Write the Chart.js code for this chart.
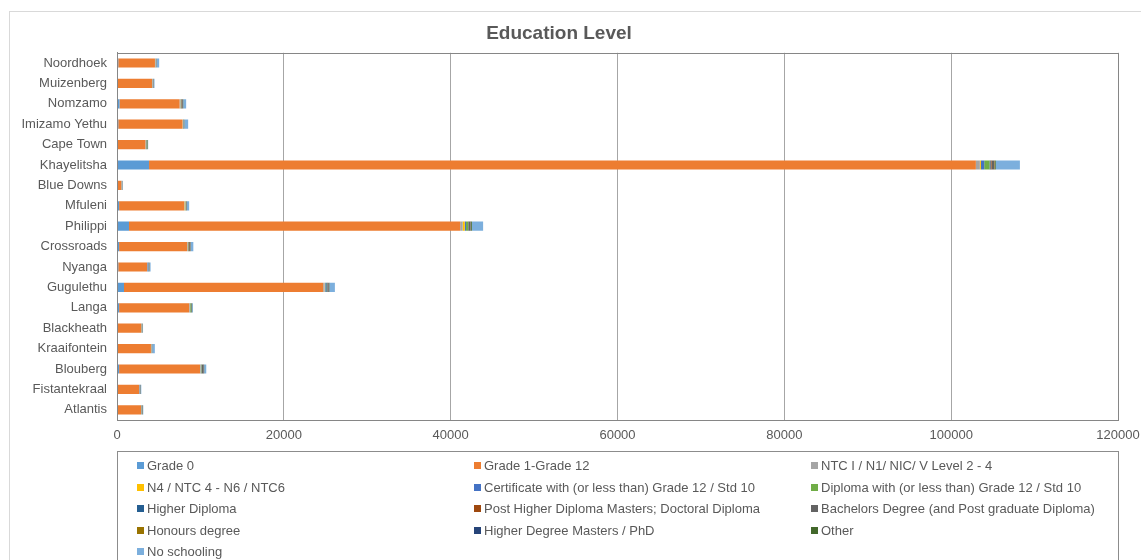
<!DOCTYPE html>
<html lang="en">
<head>
    <meta charset="UTF-8">
    <title>Education Level</title>
    <script src="https://cdn.jsdelivr.net/npm/chart.js"></script>
    <style>
        body { margin: 0; overflow: hidden; background: #fff; font-family: "Liberation Sans", Arial, sans-serif; }
        #wrap { position: relative; width: 1141px; height: 560px; overflow: hidden; }
        #frame { position: absolute; left: 9px; top: 11px; width: 1150px; height: 600px; border: 1px solid #d9d9d9; }
        #legend { position: absolute; left: 117px; top: 451px; width: 1002px; height: 130px; border: 1px solid #8c8c8c;
                  display: grid; grid-template-columns: 337px 337px 326px; grid-auto-rows: 21.5px;
                  padding: 3px 0 0 19px; box-sizing: border-box; font-size: 13px; color: #595959; }
        #legend div { display: flex; align-items: center; white-space: nowrap; }
        #legend span.sw { width: 7px; height: 7px; margin-right: 3px; flex: none; }
    </style>
</head>
<body>
<div id="wrap">
    <div id="frame"></div>
    <canvas id="eduChart"></canvas>
    <div id="legend"></div>
</div>
<script>
    const areas = ['Noordhoek', 'Muizenberg', 'Nomzamo', 'Imizamo Yethu', 'Cape Town', 'Khayelitsha',
        'Blue Downs', 'Mfuleni', 'Philippi', 'Crossroads', 'Nyanga', 'Gugulethu', 'Langa',
        'Blackheath', 'Kraaifontein', 'Blouberg', 'Fistantekraal', 'Atlantis'];

    const grade0       = [150, 120, 300, 150, 100, 3840, 30, 250, 1440, 250, 150, 840, 250, 50, 120, 250, 30, 40];
    const grade1to12   = [4400, 4080, 7200, 7700, 3300, 99120, 480, 7800, 39700, 8150, 3450, 23880, 8400, 2850, 3950, 9700, 2620, 2840];
    const ntc1         = [60, 40, 80, 40, 40, 480, 20, 60, 300, 60, 30, 150, 40, 20, 40, 60, 20, 20];
    const n4           = [10, 10, 20, 20, 10, 120, 5, 80, 250, 20, 10, 40, 15, 5, 10, 20, 5, 5];
    const certificate  = [30, 30, 40, 30, 30, 400, 20, 40, 150, 30, 120, 100, 40, 20, 20, 40, 60, 30];
    const diploma      = [30, 20, 50, 30, 40, 640, 15, 40, 250, 40, 20, 80, 80, 20, 20, 40, 20, 30];
    const higherDip    = [10, 10, 20, 20, 20, 120, 10, 20, 50, 20, 30, 120, 20, 10, 10, 20, 30, 20];
    const postHigher   = [5, 5, 60, 10, 5, 120, 5, 10, 50, 80, 5, 30, 10, 5, 5, 20, 5, 5];
    const bachelors    = [40, 50, 120, 50, 60, 300, 40, 60, 200, 150, 60, 150, 60, 40, 40, 250, 30, 60];
    const honours      = [5, 5, 10, 5, 5, 60, 5, 5, 30, 10, 5, 20, 5, 5, 5, 10, 5, 5];
    const higherDegree = [5, 5, 10, 5, 5, 40, 5, 5, 20, 10, 5, 20, 5, 5, 5, 10, 5, 5];
    const other        = [10, 20, 30, 20, 60, 100, 10, 30, 100, 30, 20, 40, 80, 30, 10, 30, 20, 40];
    const noSchooling  = [300, 100, 350, 450, 60, 2900, 60, 250, 1350, 300, 120, 650, 100, 60, 300, 250, 60, 50];

    const xTicks = [0, 20000, 40000, 60000, 80000, 100000, 120000];

    const series = [
        ['Grade 0', grade0, '#5B9BD5'],
        ['Grade 1-Grade 12', grade1to12, '#ED7D31'],
        ['NTC I / N1/ NIC/ V Level 2 - 4', ntc1, '#A5A5A5'],
        ['N4 / NTC 4 - N6 / NTC6', n4, '#FFC000'],
        ['Certificate with (or less than) Grade 12 / Std 10', certificate, '#4472C4'],
        ['Diploma with (or less than) Grade 12 / Std 10', diploma, '#70AD47'],
        ['Higher Diploma', higherDip, '#255E91'],
        ['Post Higher Diploma Masters; Doctoral Diploma', postHigher, '#9E480E'],
        ['Bachelors Degree (and Post graduate Diploma)', bachelors, '#636363'],
        ['Honours degree', honours, '#997300'],
        ['Higher Degree Masters / PhD', higherDegree, '#264478'],
        ['Other', other, '#43682B'],
        ['No schooling', noSchooling, '#7CAFDD']
    ];

    // cadre autour de la zone de tracé
    const plotFrame = {
        id: 'plotFrame',
        afterDraw(chart) {
            const a = chart.chartArea, ctx = chart.ctx;
            ctx.save();
            ctx.strokeStyle = '#868686';
            ctx.lineWidth = 1;
            ctx.strokeRect(Math.round(a.left) + 0.5, Math.round(a.top) + 0.5,
                Math.round(a.right - a.left), Math.round(a.bottom - a.top));
            ctx.restore();
        }
    };

    Chart.defaults.font.family = '"Liberation Sans", Arial, sans-serif';
    Chart.defaults.color = '#595959';

    const chart = new Chart(document.getElementById('eduChart'), {
        type: 'bar',
        data: {
            labels: areas,
            datasets: series.map(s => ({
                label: s[0],
                data: s[1],
                backgroundColor: s[2],
                borderWidth: 0,
                barPercentage: 0.45,
                categoryPercentage: 1
            }))
        },
        options: {
            indexAxis: 'y',
            responsive: true,
            maintainAspectRatio: false,
            animation: false,
            layout: { padding: { left: 0, right: 23, top: 0, bottom: 118 } },
            plugins: {
                legend: { display: false },
                tooltip: { enabled: false },
                title: {
                    display: true,
                    text: 'Education Level',
                    color: '#595959',
                    font: { size: 19, weight: 'bold' },
                    padding: { top: 22, bottom: 8 }
                }
            },
            scales: {
                x: {
                    stacked: true,
                    min: 0,
                    max: 120000,
                    afterBuildTicks: s => { s.ticks = xTicks.map(v => ({ value: v })); },
                    afterFit: s => { s.height = 22; s.paddingLeft = 0; s.paddingRight = 0; },
                    grid: { color: '#a6a6a6', drawTicks: false },
                    border: { color: '#868686' },
                    ticks: { padding: 8, font: { size: 13 }, color: '#595959', callback: v => String(v) }
                },
                y: {
                    stacked: true,
                    afterFit: s => { s.width = 117; },
                    grid: { display: false, drawTicks: false },
                    border: { color: '#868686' },
                    ticks: { padding: 10, font: { size: 13 }, color: '#595959', autoSkip: false }
                }
            }
        },
        plugins: [plotFrame]
    });

    // légende en trois colonnes
    const legend = document.getElementById('legend');
    chart.data.datasets.forEach(ds => {
        const item = document.createElement('div');
        const sw = document.createElement('span');
        sw.className = 'sw';
        sw.style.background = ds.backgroundColor;
        item.appendChild(sw);
        item.appendChild(document.createTextNode(ds.label));
        legend.appendChild(item);
    });
</script>
</body>
</html>
